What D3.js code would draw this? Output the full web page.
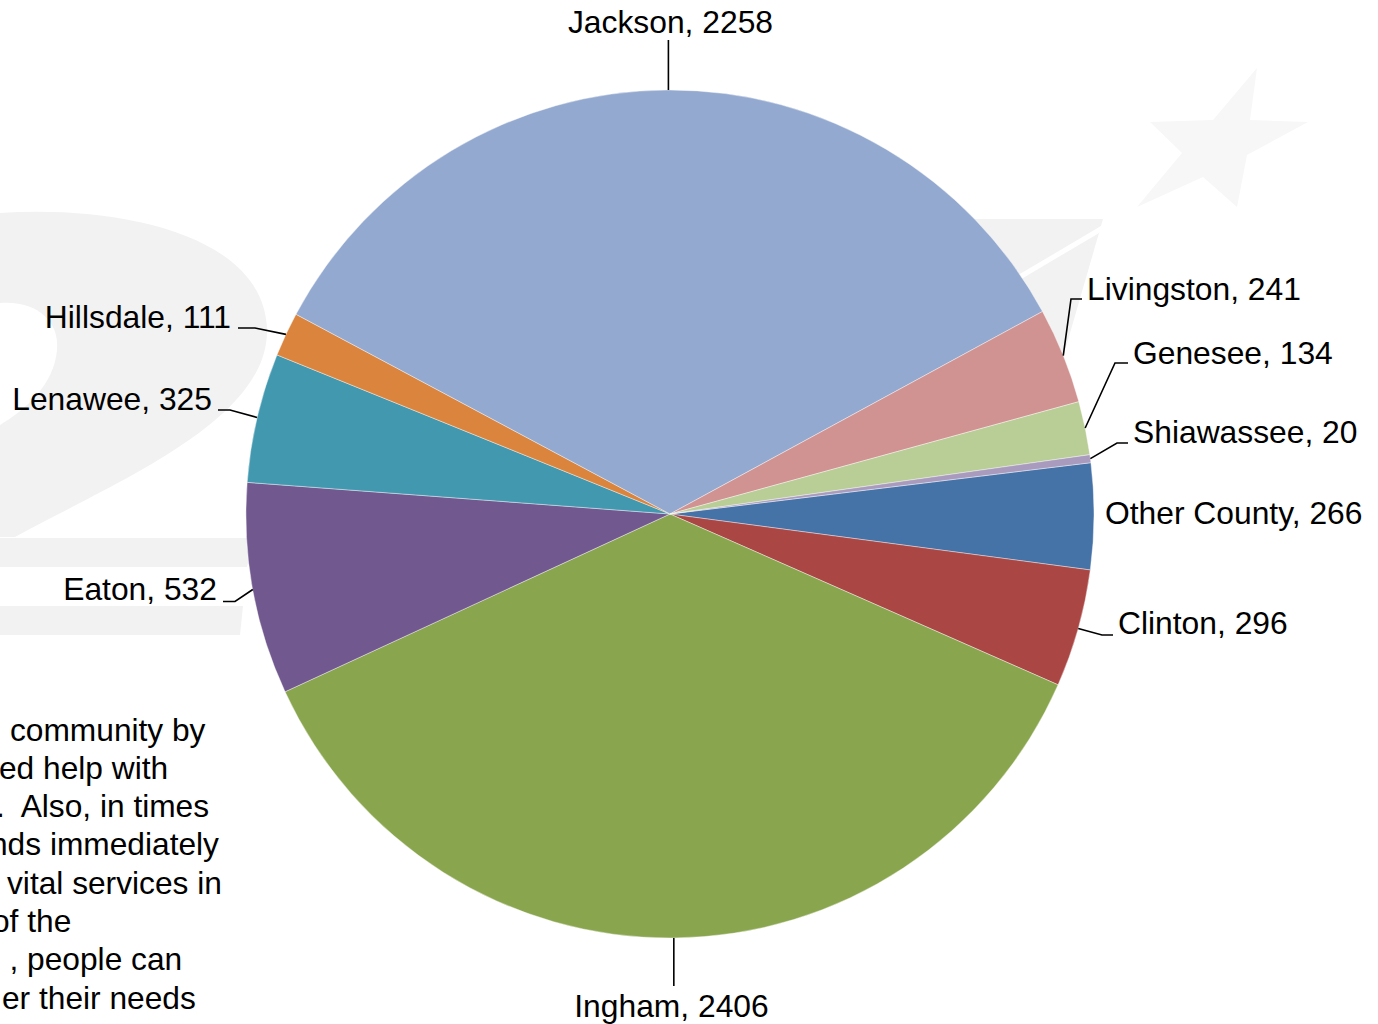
<!DOCTYPE html>
<html><head><meta charset="utf-8">
<script src="https://cdn.jsdelivr.net/npm/d3@7"></script>
<style>html,body{margin:0;padding:0;background:#fff;overflow:hidden}</style>
</head><body>
<svg id="chart" width="1378" height="1024"></svg>
<script>
// ---- data ----
const categories = ["Other County","Clinton","Ingham","Eaton","Lenawee","Hillsdale","Jackson","Livingston","Genesee","Shiawassee"];
const values = [266,296,2406,532,325,111,2258,241,134,20];
const colors = ["#4572A7","#AA4643","#89A54E","#71588F","#4198AF","#DB843D","#93A9CF","#D19392","#B9CD96","#A99BBD"];
const paragraphLines = ["community by","ed help with",".  Also, in times","nds immediately","vital services in","of the",", people can","er their needs"];

// ---- layout ----
const W = 1378, H = 1024;
const cx = 670, cy = 514, R = 424;
const FONT = "'Liberation Sans', Arial, Helvetica, sans-serif";
const LABEL_SIZE = 31.8, PARA_SIZE = 31.7;
const startDeg = 83.05;

const labelLayout = {
  "Jackson":      {x:670.5,y:33,  anchor:"middle", pts:[[null,40]]},
  "Ingham":       {x:671.5,y:1017,anchor:"middle", pts:[[null,986]]},
  "Livingston":   {x:1087, y:300, anchor:"start",  pts:[[1071,299],[1082,299]]},
  "Genesee":      {x:1133, y:364, anchor:"start",  pts:[[1115,363],[1128,363]]},
  "Shiawassee":   {x:1133, y:443, anchor:"start",  pts:[[1117,443],[1128,443]]},
  "Other County": {x:1105, y:524, anchor:"start",  pts:null},
  "Clinton":      {x:1118, y:634, anchor:"start",  pts:[[1102,635],[1113,635]]},
  "Eaton":        {x:217,  y:600, anchor:"end",    pts:[[235,601.5],[223,601.5]]},
  "Lenawee":      {x:212,  y:410, anchor:"end",    pts:[[230,410],[218,410]]},
  "Hillsdale":    {x:231,  y:328, anchor:"end",    pts:[[255,328],[238,328]]}
};
const paraX = [10,-1,-4,-10,7,-8,9.5,2];
const paraY0 = 740.5, paraDy = 38.3;

const svg = d3.select("#chart");
svg.append("rect").attr("width",W).attr("height",H).attr("fill","#fff");

// ---- faint watermark (2-1-1 logo) ----
const wm = svg.append("g");
wm.append("path").attr("fill","#f2f2f2")
  .attr("d","M0,213 C120,205 265,235 267,330 C268,420 120,480 15,537 L0,537 Z");
wm.append("path").attr("fill","#fff")
  .attr("d","M0,303 C35,300 60,320 57,350 C54,385 25,410 0,425 Z");
wm.append("path").attr("fill","#f2f2f2").attr("d","M0,538 L253,538 L247,567 L0,567 Z");
wm.append("path").attr("fill","#f2f2f2").attr("d","M0,606 L243,606 L240,635 L0,635 Z");
wm.append("path").attr("fill","#f2f2f2").attr("d","M960,219 L1103,219 L1055,385 L960,385 Z");
wm.append("line").attr("x1",1106).attr("y1",226).attr("x2",1018).attr("y2",278)
  .attr("stroke","#fff").attr("stroke-width",5);
wm.append("path").attr("fill","#f7f7f7")
  .attr("d","M1257,68 L1250,120 L1308,122 L1247,155 L1237,207 L1203,177 L1137,207 L1182,153 L1150,122 L1213,120 Z");

// ---- clipped paragraph text on the left ----
const para = svg.append("g").attr("font-family",FONT).attr("font-size",PARA_SIZE).attr("fill","#000");
para.selectAll("text").data(paragraphLines).join("text")
  .attr("x",(d,i)=>paraX[i]).attr("y",(d,i)=>paraY0+i*paraDy)
  .attr("xml:space","preserve")
  .style("white-space","pre")
  .text(d=>d);

// ---- pie ----
const data = categories.map((c,i)=>({name:c, value:values[i], color:colors[i]}));
const a0 = startDeg*Math.PI/180;
const pie = d3.pie().sort(null).value(d=>d.value).startAngle(a0).endAngle(a0+2*Math.PI);
const arcs = pie(data);
const arc = d3.arc().innerRadius(0).outerRadius(R);
const g = svg.append("g").attr("transform",`translate(${cx},${cy})`);
g.selectAll("path").data(arcs).join("path")
  .attr("d",arc)
  .attr("fill",d=>d.data.color)
  .attr("stroke","#ffffff").attr("stroke-opacity",0.5).attr("stroke-width",0.8);

// ---- leader lines & labels ----
const lab = svg.append("g");
arcs.forEach(d=>{
  const L = labelLayout[d.data.name];
  const mid = (d.startAngle+d.endAngle)/2;
  const px = cx + R*Math.sin(mid), py = cy - R*Math.cos(mid);
  if (L.pts){
    const pts = [[px,py]].concat(L.pts.map(p=>[p[0]===null?px:p[0], p[1]]));
    lab.append("path").attr("d",d3.line()(pts))
      .attr("fill","none").attr("stroke","#000").attr("stroke-width",1.6);
  }
  lab.append("text").attr("x",L.x).attr("y",L.y)
    .attr("text-anchor",L.anchor)
    .attr("font-family",FONT).attr("font-size",LABEL_SIZE).attr("fill","#000")
    .text(`${d.data.name}, ${d.data.value}`);
});
</script>
</body></html>
